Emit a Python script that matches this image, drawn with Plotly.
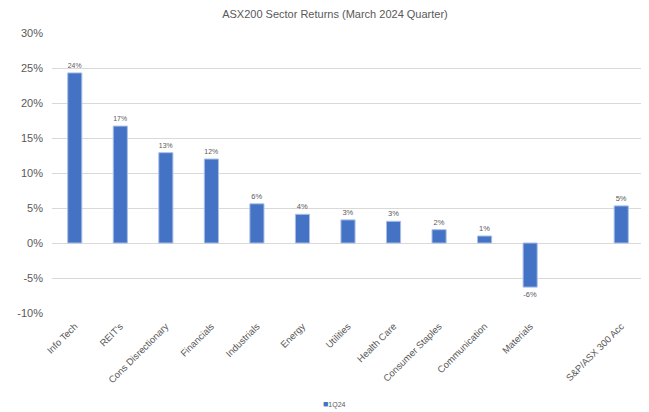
import plotly.graph_objects as go

categories = ["Info Tech", "REIT's", "Cons Disrectionary", "Financials", "Industrials",
              "Energy", "Utilities", "Health Care", "Consumer Staples", "Communication",
              "Materials", " ", "S&P/ASX 300 Acc"]
values = [24.3, 16.7, 12.9, 12.0, 5.6, 4.1, 3.3, 3.1, 1.9, 1.0, -6.3, None, 5.3]
labels = ["24%", "17%", "13%", "12%", "6%", "4%", "3%", "3%", "2%", "1%", "-6%", "", "5%"]
series_name = "1Q24"
y_ticks = [-10, -5, 0, 5, 10, 15, 20, 25, 30]
y_ticklabels = [f"{t}%" for t in y_ticks]

font_family = "Liberation Sans, Arial"
grey = "#595959"
bar_color = "#4472C4"

fig = go.Figure()
fig.add_trace(go.Bar(
    x=categories, y=values, name=series_name,
    marker=dict(color=bar_color, line=dict(color="#A9BFE6", width=1)),
    text=labels, textposition="outside", cliponaxis=False,
    textfont=dict(size=7.5, color=grey, family=font_family),
    showlegend=False,
))
# legend entry: compact square swatch drawn in the label text (Excel-style tight legend)
fig.add_trace(go.Scatter(
    x=[None], y=[None], mode="markers",
    name=f'<span style="color:{bar_color};font-size:9px">■</span>{series_name}',
    marker=dict(symbol="square", size=1, color="rgba(0,0,0,0)"),
    showlegend=True,
))

W, H = 641, 404  # page body has an 8px margin
fig.update_layout(
    template="none",
    width=W, height=H,
    margin=dict(l=44, r=5, t=25, b=99, autoexpand=False),
    paper_bgcolor="white", plot_bgcolor="white",
    bargap=0.69,
    title=dict(text="ASX200 Sector Returns (March 2024 Quarter)", x=0.478, xanchor="center",
               xref="paper", y=1 - 6 / H, yanchor="middle",
               font=dict(size=11, color=grey, family=font_family)),
    font=dict(family=font_family, color=grey),
    legend=dict(orientation="h", x=0.39, xanchor="left", y=-0.325, yanchor="middle",
                font=dict(size=7, color=grey), itemwidth=30, bgcolor="rgba(0,0,0,0)"),
)
fig.update_yaxes(range=[-10, 30], tickvals=y_ticks, ticktext=y_ticklabels,
                 showgrid=True, gridcolor="#D9D9D9", gridwidth=1,
                 zeroline=True, zerolinecolor="#D9D9D9", zerolinewidth=1,
                 showline=False, ticks="", automargin=False, ticklabelstandoff=8,
                 tickfont=dict(size=11, color=grey, family=font_family))
fig.update_xaxes(type="category", tickangle=-45, showgrid=False, showline=False,
                 ticks="", automargin=False, ticklabelstandoff=5,
                 tickfont=dict(size=9.5, color=grey, family=font_family))

fig.write_html("out.html")
